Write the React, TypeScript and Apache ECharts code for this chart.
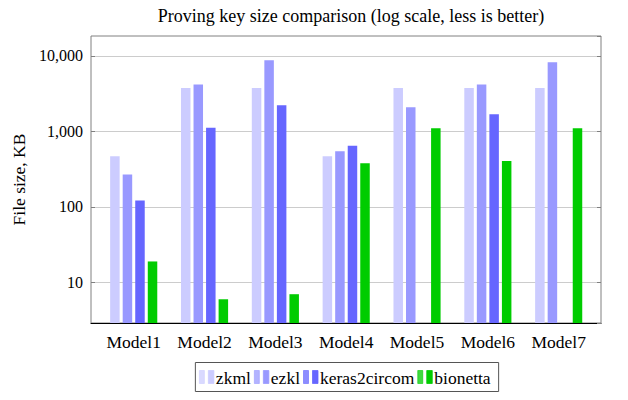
import React, { useEffect, useRef } from "react";
import * as echarts from "echarts";

const models = ["Model1", "Model2", "Model3", "Model4", "Model5", "Model6", "Model7"];
const zkml = [470, 3770, 3770, 470, 3770, 3770, 3770];
const ezkl = [270, 4180, 8750, 545, 2090, 4180, 8230];
const keras2circom = [122, 1120, 2220, 645, null, 1690, null];
const bionetta = [19, 6, 7, 378, 1100, 405, 1100];
const seriesNames = ["zkml", "ezkl", "keras2circom", "bionetta"];
const seriesColors = ["#ccccff", "#9999ff", "#6666ff", "#00cc00"];

const yMin = 2.91;
const yMax = 18360;
const font = "Liberation Serif";

// pgfplots-style legend box, drawn with graphic elements so the serif font is kept
const buildLegend = () => {
  const fontSize = 17.5;
  const ctx = document.createElement("canvas").getContext("2d")!;
  ctx.font = `${fontSize}px "${font}"`;
  const children: any[] = [];
  let x = 0;
  seriesNames.forEach((name, i) => {
    const c = seriesColors[i];
    children.push(
      { type: "rect", shape: { x: x, y: -6.5, width: 5, height: 13 }, style: { fill: c, stroke: c, lineWidth: 0.8, opacity: 0.75 } },
      { type: "rect", shape: { x: x + 9, y: -6.5, width: 5.5, height: 13 }, style: { fill: c, stroke: c, lineWidth: 0.8 } }
    );
    x += 16.5;
    children.push({
      type: "text",
      x,
      y: 1,
      style: { text: name, font: `${fontSize}px "${font}"`, fill: "#000", verticalAlign: "middle" },
    });
    x += ctx.measureText(name).width + 3.5;
  });
  const contentW = x - 3.5;
  const padL = 4;
  const padR = 8;
  const boxW = contentW + padL + padR;
  children.unshift({
    type: "rect",
    shape: { x: -padL, y: -14.5, width: boxW, height: 29 },
    style: { fill: "#fff", stroke: "#555", lineWidth: 1 },
  });
  return { type: "group", x: 347 - boxW / 2 + padL, y: 377, children };
};

const App = () => {
  const chartRef = useRef<HTMLDivElement>(null);

  useEffect(() => {
    document.body.style.margin = "0";
    if (!chartRef.current) return;
    const chart = echarts.init(chartRef.current, undefined, { renderer: "svg" });

    const bar = (i: number, data: (number | null)[]) => ({
      name: seriesNames[i],
      type: "bar" as const,
      xAxisIndex: 1,
      yAxisIndex: 2,
      data,
      barWidth: 9.5,
      barGap: "32%",
      itemStyle: { color: seriesColors[i] },
    });

    chart.setOption({
      animation: false,
      backgroundColor: "#fff",
      textStyle: { fontFamily: font },
      title: {
        text: "Proving key size comparison (log scale, less is better)",
        left: 346,
        top: 2,
        textAlign: "center",
        textStyle: { fontFamily: font, fontWeight: "normal", fontSize: 18, color: "#000" },
      },
      graphic: [buildLegend()],
      grid: [
        { left: 91, top: 36, width: 510, height: 287, show: true, borderColor: "#808080", borderWidth: 1 },
        { left: 98.3, top: 36, width: 495.8, height: 287 },
      ],
      xAxis: [
        {
          type: "value",
          gridIndex: 0,
          axisLine: { show: true, lineStyle: { color: "#000", width: 1.2 } },
          axisTick: { show: false },
          axisLabel: { show: false },
          splitLine: { show: false },
        },
        {
          type: "category",
          gridIndex: 1,
          data: models,
          axisLine: { show: false },
          axisTick: { show: false },
          axisLabel: { color: "#000", fontSize: 17.5, fontFamily: font, margin: 10 },
        },
      ],
      yAxis: [
        {
          type: "log",
          gridIndex: 0,
          min: yMin,
          max: yMax,
          name: "File size, KB",
          nameLocation: "middle",
          nameGap: 62,
          nameTextStyle: { fontFamily: font, fontSize: 17.5, color: "#000" },
          axisLine: { show: false },
          axisTick: { show: true, inside: true, length: 4, lineStyle: { color: "#808080" } },
          axisLabel: {
            color: "#000",
            fontSize: 16,
            fontFamily: font,
            margin: 8,
            showMinLabel: false,
            showMaxLabel: false,
            formatter: (v: number) => Math.round(v).toLocaleString("en-US"),
          },
          splitLine: { show: true, showMinLine: false, showMaxLine: false, lineStyle: { color: "#cccccc" } },
        },
        {
          type: "log",
          gridIndex: 0,
          position: "right",
          min: yMin,
          max: yMax,
          axisLine: { show: false },
          axisTick: { show: true, inside: true, length: 4, lineStyle: { color: "#808080" } },
          axisLabel: { show: false },
          splitLine: { show: false },
        },
        {
          type: "log",
          gridIndex: 1,
          min: yMin,
          max: yMax,
          show: false,
        },
      ],
      series: [bar(0, zkml), bar(1, ezkl), bar(2, keras2circom), bar(3, bionetta)],
    });

    return () => {
      chart.dispose();
    };
  }, []);

  return <div ref={chartRef} style={{ width: 628, height: 400 }} />;
};

export default App;
